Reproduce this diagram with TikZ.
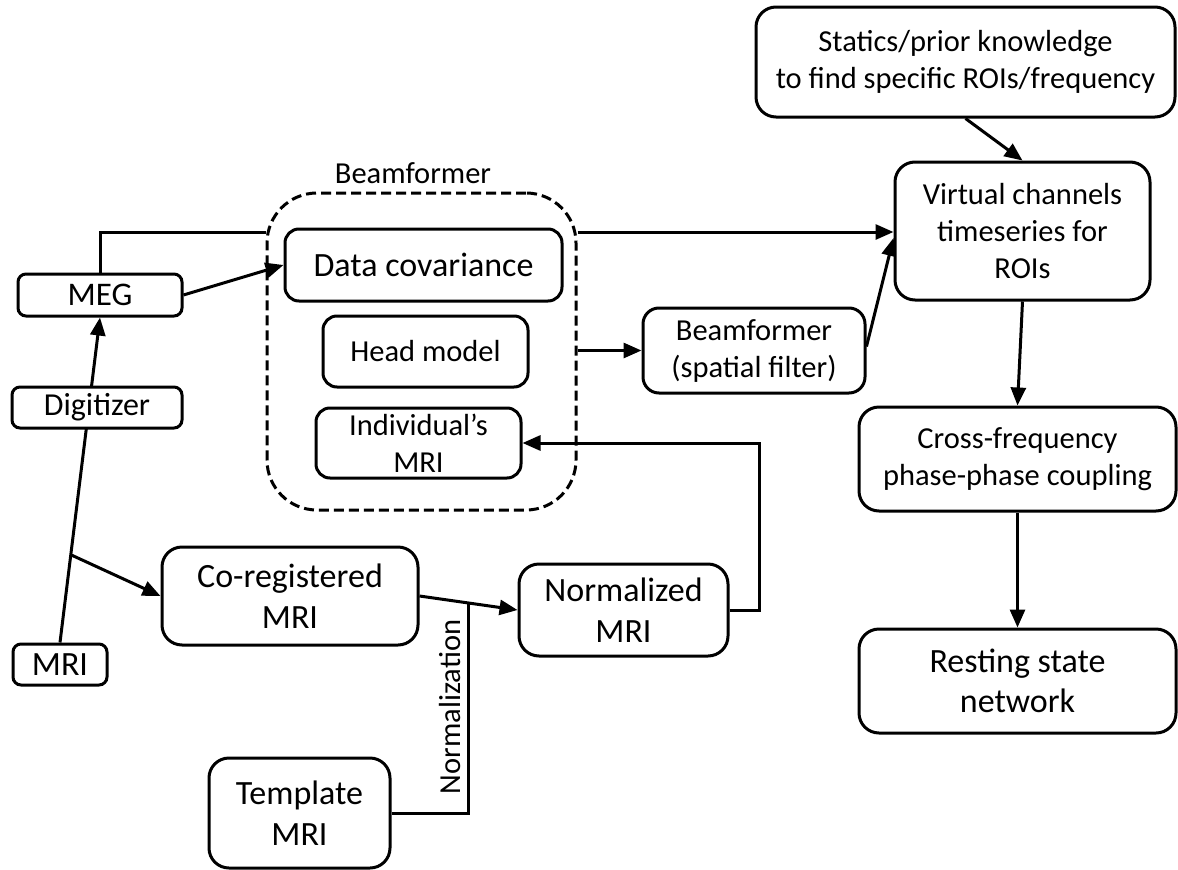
\documentclass[tikz,border=0pt]{standalone}
\usepackage{fontspec}
\setmainfont{Carlito}
\usetikzlibrary{arrows.meta,backgrounds,calc}

\begin{document}
\begin{tikzpicture}[x=1pt,y=-1pt,
  txt/.style={font=\fontsize{30.5}{37}\selectfont},
  big/.style={font=\fontsize{34}{40.5}\selectfont},
  box/.style={txt, draw, line width=3pt, rounded corners=#1, fill=white,
    align=center, inner sep=0pt},
  box/.default=20pt,
  group/.style={draw, line width=3pt, rounded corners=50pt,
    dash pattern=on 10pt off 5pt, inner sep=0pt},
  link/.style={line width=3pt},
  arr/.style={link, -{Triangle[length=18pt,width=15pt]}},
]
\useasboundingbox (0,0) rectangle (1178,870);

% right-hand column
\node[box, minimum width=419pt, minimum height=110pt] (statics) at (965.5,62)
  {Statics/prior knowledge\\to find specific ROIs/frequency};
\node[box, minimum width=255pt, minimum height=138pt] (virt) at (1022.5,231)
  {Virtual channels\\timeseries for\\ROIs};
\node[box, minimum width=317pt, minimum height=104pt] (cross) at (1017.5,459)
  {Cross-frequency\\phase-phase coupling};
\node[box, big, minimum width=317pt, minimum height=104pt] (rest) at (1017.5,681)
  {Resting state\\network};
\node[box=16pt, minimum width=222pt, minimum height=85pt] (sf) at (754,350.5)
  {Beamformer\\(spatial filter)};

% beamformer group
\node[group, minimum width=309pt, minimum height=317pt] (grp) at (421.5,351.5) {};
\node[txt] (grplbl) at (413,173) {Beamformer};
\node[box=14pt, big, minimum width=277pt, minimum height=72pt] (datacov) at (423.5,265)
  {Data covariance};
\node[box=14pt, minimum width=205pt, minimum height=71pt] (head) at (425.5,351.5)
  {Head model};
\node[box=14pt, minimum width=205pt, minimum height=70pt] (ind) at (418.5,443)
  {Individual’s\\MRI};

% inputs on the left
\node[box=8pt, font=\fontsize{33}{40}\selectfont, minimum width=164pt, minimum height=42pt] (meg) at (100,295) {MEG};
\node[box=8pt, font=\fontsize{32}{39}\selectfont, minimum width=170pt, minimum height=41pt] (dig) at (97,407.5) {Digitizer};
\node[box=8pt, big, minimum width=94pt, minimum height=41pt] (mri) at (60,664.5) {MRI};

% MRI processing
\node[box, big, minimum width=256pt, minimum height=98pt] (coreg) at (290,596)
  {Co-registered\\MRI};
\node[box, big, minimum width=209pt, minimum height=92pt] (norm) at (623.5,610)
  {Normalized\\MRI};
\node[box, big, minimum width=181pt, minimum height=110pt] (templ) at (299.5,813)
  {Template\\MRI};
\node[txt, rotate=90] (normlbl) at (450,707) {Normalization};

\coordinate (topY) at (0,232);

\begin{scope}[on background layer]
  \draw[arr] (mri.north) -- coordinate[pos=0.27] (branch) (meg.south);
  \draw[arr] (branch) -- (coreg.west);
  \draw[link] (meg.north) |- (grp.west |- topY);
  \draw[arr] (grp.east |- topY) -- (virt.west |- topY);
  \draw[arr] (meg.east) -- (datacov.west);
  \draw[arr] (grp.east |- sf.west) -- (sf.west);
  \draw[arr] ($(sf.east)+(0,-4)$) -- ($(virt.west)+(0,7)$);
  \draw[arr] (statics.south) -- (virt.north);
  \draw[arr] (virt.south) -- (cross.north);
  \draw[arr] (cross.south) -- (rest.north);
  \draw[arr] (coreg.east) -- coordinate[pos=0.505] (nj) (norm.west);
  \draw[link] (templ.east) -| (nj);
  \draw[arr] (norm.east) -- ++(30,0) |- (ind.east);
\end{scope}
\end{tikzpicture}
\end{document}
